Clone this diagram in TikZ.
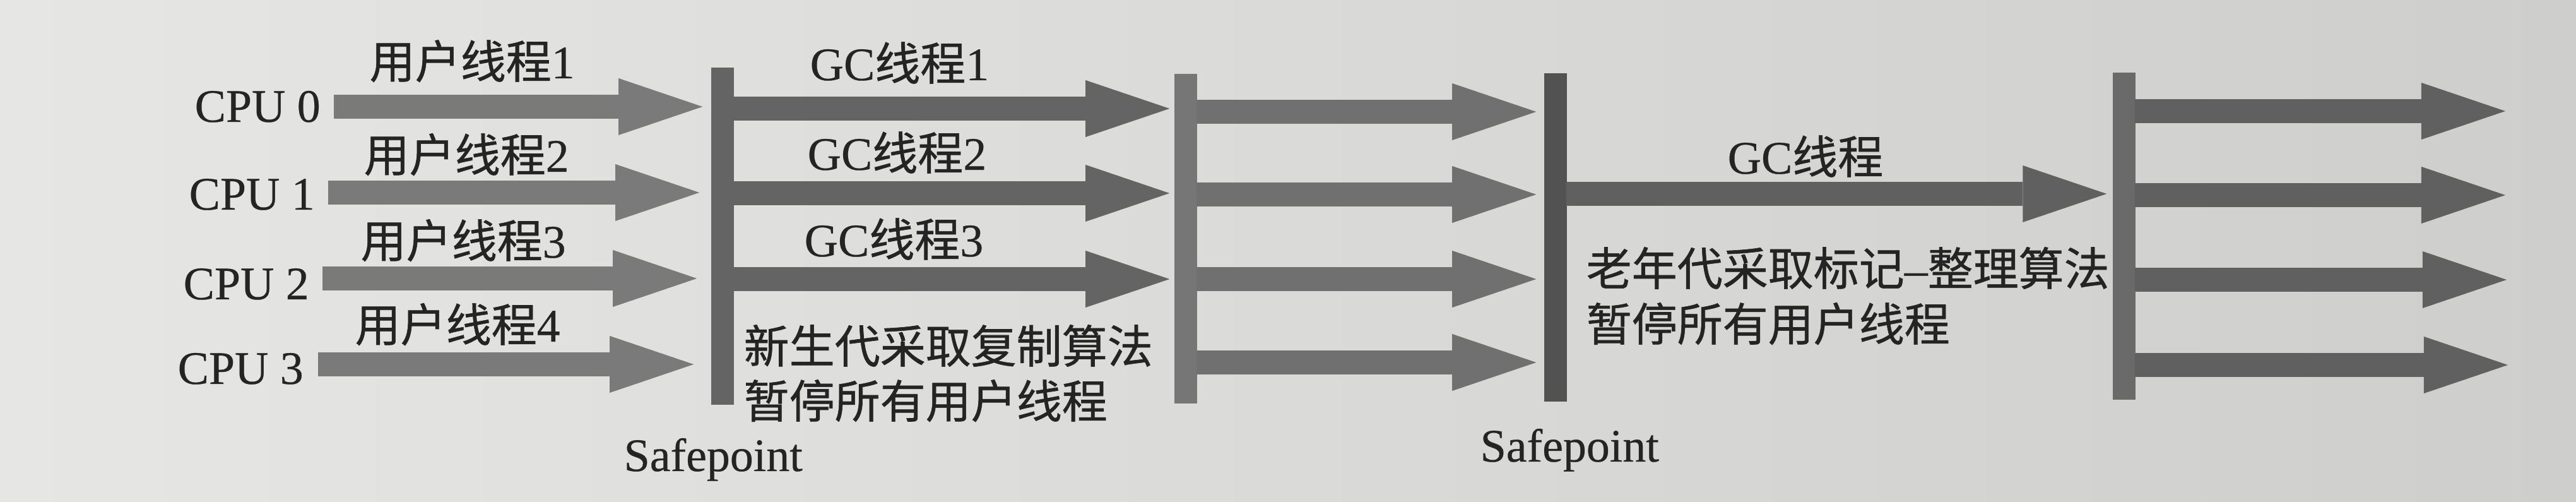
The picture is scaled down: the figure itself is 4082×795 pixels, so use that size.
\documentclass[tikz,border=0pt]{standalone}
\usepackage{fontspec}
\setmainfont{Liberation Serif}[FakeBold=0.4]
\newfontfamily\cjk{Noto Sans CJK SC}[Scale=0.975,FakeBold=0.8]
\usetikzlibrary{arrows.meta}
\definecolor{bgl}{RGB}{230,230,228}
\definecolor{bgr}{RGB}{206,206,204}
\definecolor{arrA}{RGB}{122,122,122}
\definecolor{arrB}{RGB}{100,100,100}
\definecolor{arrC}{RGB}{112,112,112}
\definecolor{arrD}{RGB}{96,96,96}
\definecolor{barA}{RGB}{100,100,100}
\definecolor{barB}{RGB}{118,118,118}
\definecolor{barC}{RGB}{82,82,82}
\definecolor{barD}{RGB}{106,106,106}
\definecolor{ink}{RGB}{36,36,36}
\begin{document}
\begin{tikzpicture}[x=0.01cm,y=-0.01cm,
  thr/.style={line width=0.38cm,
    -{Triangle[length=1.33cm,width=0.9cm,line width=0pt]}},
  bar/.style={draw=none, inner sep=0pt, minimum width=0.36cm},
  lab/.style={inner sep=0pt, text=ink, font=\fontsize{21}{25}\selectfont, anchor=base west},
]
% background
\shade[left color=bgl, right color=bgr] (0,0) rectangle (4082,795);
\useasboundingbox (0,0) rectangle (4082,795);

% safepoint bars
\node[bar, fill=barA, minimum height=5.33cm] (b1) at (1145,374) {};
\node[bar, fill=barB, minimum height=5.22cm] (b2) at (1879,378) {};
\node[bar, fill=barC, minimum height=5.19cm] (b3) at (2465,376) {};
\node[bar, fill=barD, minimum height=5.18cm] (b4) at (3366,374) {};

% CPU labels
\node[lab] (cpu0) at (308,193) {CPU 0};
\node[lab] (cpu1) at (299,332) {CPU 1};
\node[lab] (cpu2) at (290,474) {CPU 2};
\node[lab] (cpu3) at (281,608) {CPU 3};

% user thread labels
\node[lab] (u1) at (585,124) {{\cjk 用户线程}1};
\node[lab] (u2) at (576,272) {{\cjk 用户线程}2};
\node[lab] (u3) at (571,408) {{\cjk 用户线程}3};
\node[lab] (u4) at (562,541) {{\cjk 用户线程}4};

% user thread arrows
\coordinate (s0) at (529,169);
\coordinate (s1) at (520,305);
\coordinate (s2) at (511,441);
\coordinate (s3) at (504,577);
\draw[thr, draw=arrA, shorten >=0.13cm] (s0) -- (s0 -| b1.west);
\draw[thr, draw=arrA, shorten >=0.18cm] (s1) -- (s1 -| b1.west);
\draw[thr, draw=arrA, shorten >=0.22cm] (s2) -- (s2 -| b1.west);
\draw[thr, draw=arrA, shorten >=0.27cm] (s3) -- (s3 -| b1.west);

% GC thread labels
\node[lab] (g1) at (1283,127) {GC{\cjk 线程}1};
\node[lab] (g2) at (1279,269) {GC{\cjk 线程}2};
\node[lab] (g3) at (1274,406) {GC{\cjk 线程}3};

% GC arrows
\coordinate (ga) at (1160,172);
\coordinate (gb) at (1160,306);
\coordinate (gc) at (1160,442);
\draw[thr, draw=arrB, shorten >=0.07cm] (ga) -- (ga -| b2.west);
\draw[thr, draw=arrB, shorten >=0.07cm] (gb) -- (gb -| b2.west);
\draw[thr, draw=arrB, shorten >=0.07cm] (gc) -- (gc -| b2.west);

% young gen text
\node[lab] (y1) at (1178,575) {\cjk 新生代采取复制算法};
\node[lab] (y2) at (1178,662) {\cjk 暂停所有用户线程};
\node[lab] (sp1) at (988,746) {Safepoint};

% resumed user threads
\coordinate (ra) at (1896,177);
\coordinate (rb) at (1896,308);
\coordinate (rc) at (1896,442);
\coordinate (rd) at (1896,574);
\draw[thr, draw=arrC, shorten >=0.12cm] (ra) -- (ra -| b3.west);
\draw[thr, draw=arrC, shorten >=0.12cm] (rb) -- (rb -| b3.west);
\draw[thr, draw=arrC, shorten >=0.12cm] (rc) -- (rc -| b3.west);
\draw[thr, draw=arrC, shorten >=0.12cm] (rd) -- (rd -| b3.west);

\node[lab] (sp2) at (2345,731) {Safepoint};

% old gen GC
\node[lab] (gs) at (2737,275) {GC{\cjk 线程}};
\coordinate (oa) at (2482,307);
\draw[thr, draw=arrD, shorten >=0.09cm] (oa) -- (oa -| b4.west);
\node[lab] (o1) at (2513,452) {{\cjk 老年代采取标记}–{\cjk 整理算法}};
\node[lab] (o2) at (2513,540) {\cjk 暂停所有用户线程};

% final user threads
\coordinate (fa) at (3383,176);
\coordinate (fb) at (3383,309);
\coordinate (fc) at (3383,443);
\coordinate (fd) at (3383,578);
\coordinate (ea) at (3970,176);
\coordinate (eb) at (3970,309);
\coordinate (ec) at (3972,443);
\coordinate (ed) at (3974,578);
\draw[thr, draw=arrD] (fa) -- (ea);
\draw[thr, draw=arrD] (fb) -- (eb);
\draw[thr, draw=arrD] (fc) -- (ec);
\draw[thr, draw=arrD] (fd) -- (ed);
\end{tikzpicture}
\end{document}
